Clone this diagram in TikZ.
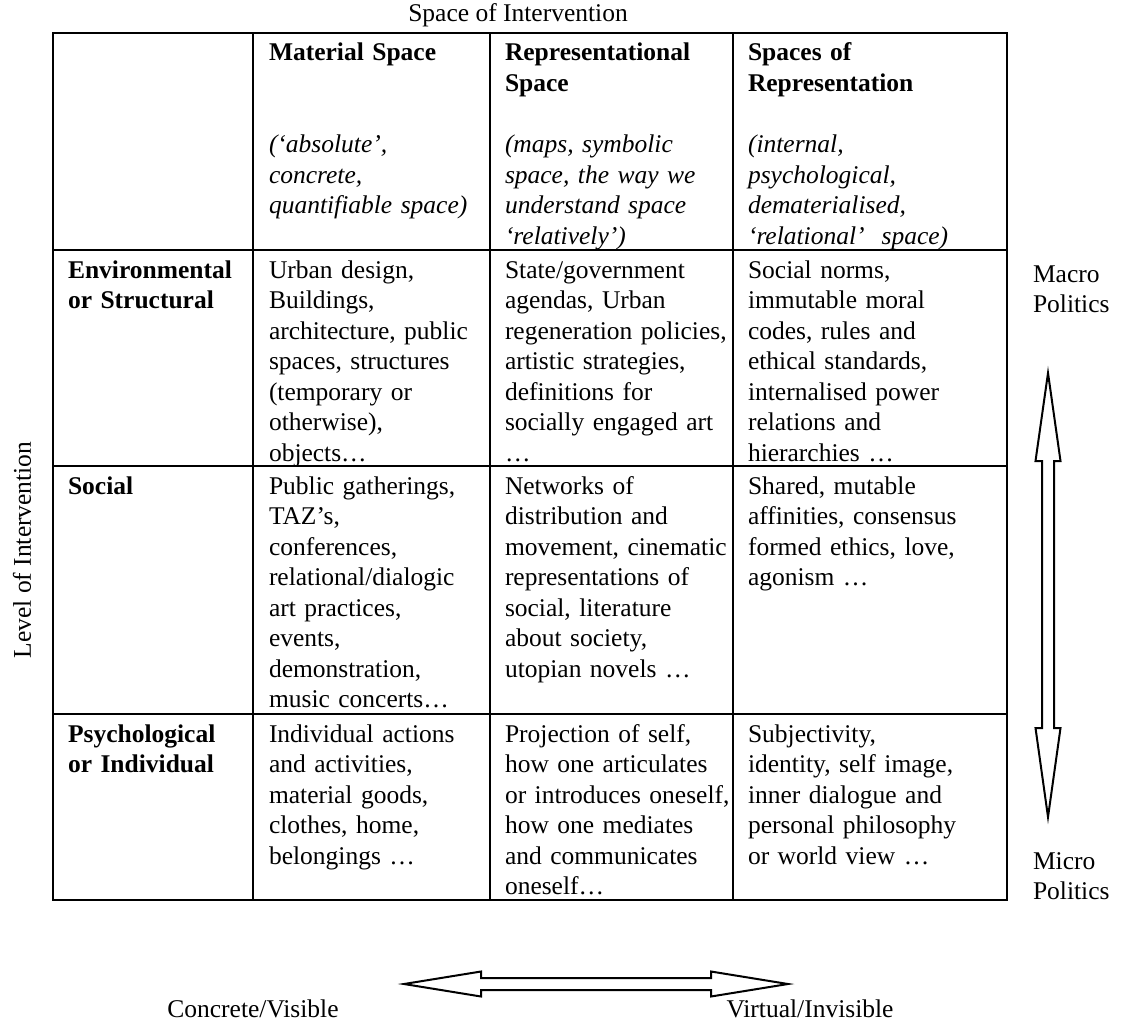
\documentclass[tikz,border=0pt]{standalone}
\usepackage{fontspec}
\setmainfont{Liberation Serif}
\begin{document}
\begin{tikzpicture}[x=0.5pt,y=-0.5pt,
  grid/.style={line width=1.2pt},
  cell/.style={anchor=base west, inner sep=0pt, outer sep=0pt, align=left, text width=150pt, font=\fontsize{12.75}{15.25}\selectfont},
  hd/.style={cell, font=\fontsize{12.75}{15.25}\selectfont\bfseries},
  it/.style={cell, font=\fontsize{12.75}{15.25}\selectfont\itshape},
  lbl/.style={inner sep=0pt, outer sep=0pt, font=\fontsize{12.75}{15.25}\selectfont},
  blockarrow/.style={line width=1pt, fill=white, line join=miter}
]
\useasboundingbox (0,0) rectangle (1124,1028);

% table grid
\coordinate (tl) at (53,33);
\coordinate (br) at (1007,900);
\draw[grid] (tl) rectangle (br);
\foreach \x in {253,490,733} \draw[grid] (\x,33) -- (\x,900);
\foreach \y in {250,466,714} \draw[grid] (53,\y) -- (1007,\y);

% header row
\node[hd] (h2) at (269,61) {Material Space};
\node[it] (h2i) at (269,152.5) {(‘absolute’,\\concrete,\\quantifiable space)};
\node[hd] (h3) at (505,61) {Representational\\Space};
\node[it] (h3i) at (505,152.5) {(maps, symbolic\\space, the way we\\understand space\\‘relatively’)};
\node[hd] (h4) at (748,61) {Spaces of\\Representation};
\node[it] (h4i) at (748,152.5) {(internal,\\psychological,\\dematerialised,\\‘relational’\ \ space)};

% row 1
\node[hd] (r1c1) at (68,278) {Environmental\\or Structural};
\node[cell] (r1c2) at (269,278) {Urban design,\\Buildings,\\architecture, public\\spaces, structures\\(temporary or\\otherwise),\\objects…};
\node[cell] (r1c3) at (505,278) {State/government\\agendas, Urban\\regeneration policies,\\artistic strategies,\\definitions for\\socially engaged art\\…};
\node[cell] (r1c4) at (748,278) {Social norms,\\immutable moral\\codes, rules and\\ethical standards,\\internalised power\\relations and\\hierarchies …};

% row 2
\node[hd] (r2c1) at (68,494) {Social};
\node[cell] (r2c2) at (269,494) {Public gatherings,\\TAZ’s,\\conferences,\\relational/dialogic\\art practices,\\events,\\demonstration,\\music concerts…};
\node[cell] (r2c3) at (505,494) {Networks of\\distribution and\\movement, cinematic\\representations of\\social, literature\\about society,\\utopian novels …};
\node[cell] (r2c4) at (748,494) {Shared, mutable\\affinities, consensus\\formed ethics, love,\\agonism …};

% row 3
\node[hd] (r3c1) at (68,742) {Psychological\\or Individual};
\node[cell] (r3c2) at (269,742) {Individual actions\\and activities,\\material goods,\\clothes, home,\\belongings …};
\node[cell] (r3c3) at (505,742) {Projection of self,\\how one articulates\\or introduces oneself,\\how one mediates\\and communicates\\oneself…};
\node[cell] (r3c4) at (748,742) {Subjectivity,\\identity, self image,\\inner dialogue and\\personal philosophy\\or world view …};

% outside labels
\node[lbl, anchor=base] (title) at (518,21) {Space of Intervention};
\node[lbl, rotate=90] (level) at (22,550) {Level of Intervention};
\node[cell] (macro) at (1033,282) {Macro\\Politics};
\node[cell] (micro) at (1033,869) {Micro\\Politics};
\node[lbl, anchor=base] (conc) at (253,1017) {Concrete/Visible};
\node[lbl, anchor=base] (virt) at (810,1017) {Virtual/Invisible};

% block arrows
\draw[blockarrow] (1048,373) -- (1060.5,461) -- (1054,461) -- (1054,728) -- (1060.5,728) -- (1048,817) -- (1035.5,728) -- (1042,728) -- (1042,461) -- (1035.5,461) -- cycle;
\draw[blockarrow] (404,984) -- (481,971.5) -- (481,978) -- (711,978) -- (711,971.5) -- (788,984) -- (711,996.5) -- (711,990) -- (481,990) -- (481,996.5) -- cycle;
\end{tikzpicture}
\end{document}
